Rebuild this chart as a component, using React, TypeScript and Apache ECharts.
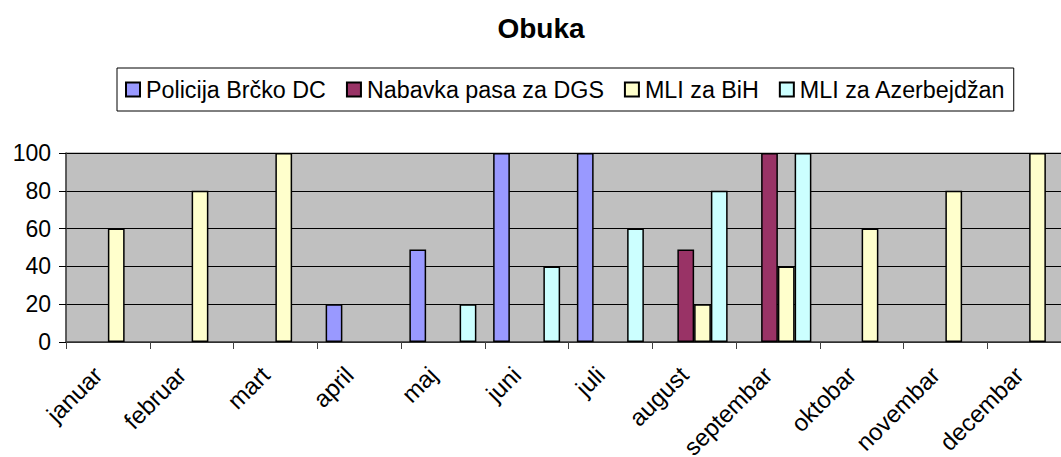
import React, { useEffect, useRef } from "react";
import * as echarts from "echarts";

const months = ["januar", "februar", "mart", "april", "maj", "juni", "juli", "august", "septembar", "oktobar", "novembar", "decembar"];
const seriesNames = ["Policija Brčko DC", "Nabavka pasa za DGS", "MLI za BiH", "MLI za Azerbejdžan"];
const policija = [null, null, null, 20, 49, 100, 100, null, null, null, null, null];
const nabavka = [null, null, null, null, null, null, null, 49, 100, null, null, null];
const mliBiH = [60, 80, 100, null, null, null, null, 20, 40, 60, 80, 100];
const mliAzer = [null, null, null, null, 20, 40, 60, 80, 100, null, null, null];
const yTicks = [0, 20, 40, 60, 80, 100];
const colors = ["#9999FF", "#993366", "#FFFFCC", "#CCFFFF"];

const FONT = "'Liberation Sans', Arial, sans-serif";

export default function App() {
  const ref = useRef<HTMLDivElement>(null);
  useEffect(() => {
    if (!ref.current) return;
    const chart = echarts.init(ref.current, null, { renderer: "svg" });
    const data = [policija, nabavka, mliBiH, mliAzer];
    chart.setOption({
      animation: false,
      backgroundColor: "#ffffff",
      textStyle: { fontFamily: FONT },
      title: {
        text: "Obuka",
        left: 536,
        textAlign: "center",
        top: 9,
        textStyle: { fontFamily: FONT, fontSize: 28, fontWeight: "bold", color: "#000" },
      },
      legend: {
        left: 117,
        top: 68,
        orient: "horizontal",
        padding: [10, 8, 10, 8],
        borderColor: "#000",
        borderWidth: 1,
        itemWidth: 14,
        itemHeight: 14,
        itemGap: 20,
        icon: "rect",
        textStyle: { fontFamily: FONT, fontSize: 23.3, color: "#000", lineHeight: 22, padding: [0, 0, 0, 1] },
        data: seriesNames,
      },
      grid: {
        left: 66,
        top: 153,
        width: 1005,
        height: 189,
        containLabel: false,
        outerBoundsMode: "none",
        show: true,
        backgroundColor: "#C0C0C0",
        borderWidth: 1,
        borderColor: "#808080",
      },
      xAxis: {
        type: "category",
        data: months,
        boundaryGap: true,
        axisLine: { show: true, lineStyle: { color: "#404040", width: 1.5 } },
        axisTick: { show: true, length: 7, interval: 0, lineStyle: { color: "#404040" } },
        axisLabel: {
          rotate: 45,
          interval: 0,
          margin: 19,
          padding: [0, 14, 0, 0],
          fontFamily: FONT,
          fontSize: 24,
          color: "#000",
        },
        splitLine: { show: false },
      },
      yAxis: {
        type: "value",
        min: 0,
        max: 100,
        interval: 20,
        axisLine: { show: true, lineStyle: { color: "#404040", width: 1.5 } },
        axisTick: { show: true, length: 7, lineStyle: { color: "#000" } },
        axisLabel: {
          margin: 15,
          fontFamily: FONT,
          fontSize: 23,
          color: "#000",
          formatter: (v: number) => (yTicks.includes(v) ? String(v) : ""),
        },
        splitLine: { show: true, lineStyle: { color: "#000", width: 1 } },
      },
      series: seriesNames.map((name, i) => ({
        name,
        type: "bar",
        data: data[i],
        barGap: "0%",
        barCategoryGap: "20%",
        itemStyle: { color: colors[i], borderColor: "#000", borderWidth: 1.5 },
      })),
    });
    return () => chart.dispose();
  }, []);
  return (
    <div style={{ position: "fixed", left: 0, top: 0, width: 1061, height: 457, overflow: "hidden", background: "#fff" }}>
      <div ref={ref} style={{ width: 1100, height: 457 }} />
    </div>
  );
}
